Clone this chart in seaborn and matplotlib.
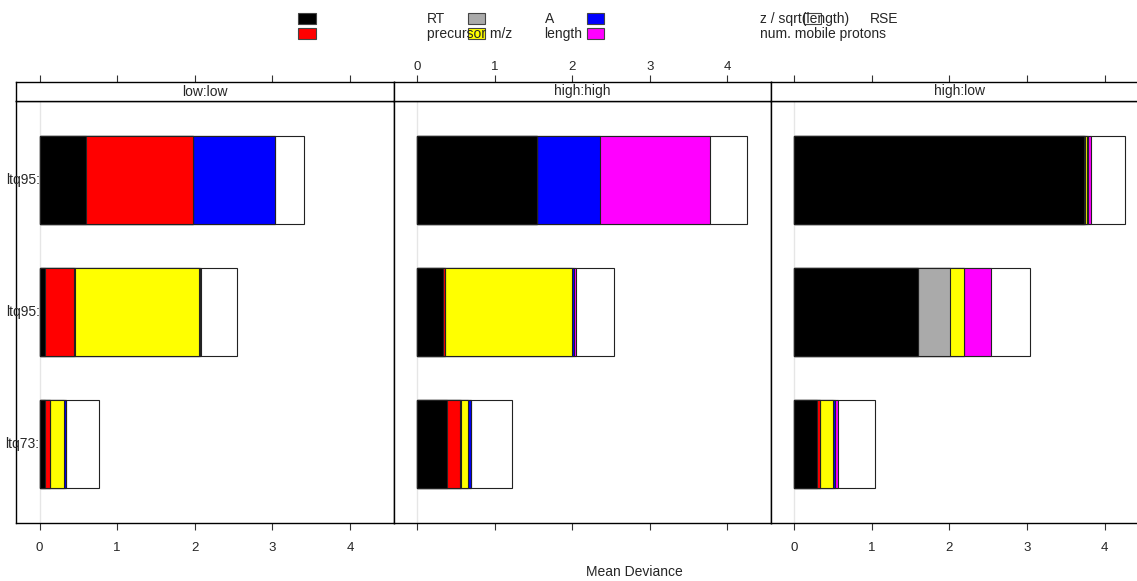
import matplotlib
matplotlib.use("Agg")
import matplotlib.pyplot as plt
from matplotlib.patches import Rectangle
import seaborn as sns
import numpy as np
import pandas as pd

# ---------------- data ----------------
panels = ["low:low", "high:high", "high:low"]
row_labels = ["ltq95:", "ltq95:", "ltq73:"]
row_ids = ["r1", "r2", "r3"]
components = ["RT", "precursor m/z", "A", "length",
              "z / sqrt(length)", "num. mobile protons", "RSE"]
colors = ["#000000", "#ff0000", "#aaaaaa", "#ffff00",
          "#0000ff", "#ff00ff", "#ffffff"]

# values per row (top to bottom), in component order
low_low = [[0.60, 1.38, 0.00, 0.00, 1.06, 0.00, 0.37],
           [0.07, 0.37, 0.01, 1.60, 0.02, 0.01, 0.47],
           [0.07, 0.06, 0.00, 0.18, 0.03, 0.00, 0.42]]
high_high = [[1.54, 0.00, 0.00, 0.00, 0.82, 1.42, 0.47],
             [0.34, 0.02, 0.00, 1.63, 0.03, 0.03, 0.49],
             [0.39, 0.16, 0.01, 0.09, 0.04, 0.01, 0.52]]
high_low = [[3.73, 0.02, 0.00, 0.02, 0.02, 0.04, 0.43],
            [1.60, 0.00, 0.41, 0.18, 0.00, 0.35, 0.50],
            [0.29, 0.04, 0.00, 0.17, 0.03, 0.03, 0.48]]
panel_values = [low_low, high_high, high_low]

x_ticks = [0, 1, 2, 3, 4]
x_label = "Mean Deviance"

# ---------------- build long table ----------------
recs = []
for p, vals in zip(panels, panel_values):
    for rid, rv in zip(row_ids, vals):
        cum = np.cumsum(rv)
        for k, comp in enumerate(components):
            recs.append(dict(panel=p, row=rid, comp=comp, k=k,
                             value=rv[k], cum=cum[k]))
df = pd.DataFrame(recs)

# ---------------- style ----------------
sns.set_theme(style="white")
plt.rcParams["font.family"] = ["Liberation Sans", "DejaVu Sans"]
plt.rcParams["font.size"] = 10

W, H = 1137, 581
fig = plt.figure(figsize=(W / 100, H / 100), dpi=100)

def fx(x):
    return x / W

def fy(y):
    return 1 - y / H

panel_left = [16.3, 393.8, 770.9]
panel_w = 377.5
top_y, strip_bot, bot_y = 82.3, 100.7, 522.7
xlim = (-0.30, -0.30 + panel_w / 77.6)

for i, (p, left) in enumerate(zip(panels, panel_left)):
    ax = fig.add_axes([fx(left), fy(bot_y), panel_w / W, (bot_y - strip_bot) / H])
    sax = fig.add_axes([fx(left), fy(strip_bot), panel_w / W, (strip_bot - top_y) / H])

    ax.axvline(0, color="#e6e6e6", lw=1, zorder=0)
    sub = df[df.panel == p]
    for k in range(len(components) - 1, -1, -1):
        d = sub[sub.k == k]
        sns.barplot(data=d, x="cum", y="row", order=row_ids, orient="h",
                    color=colors[k], saturation=1, edgecolor="#222222",
                    linewidth=0.8, width=2 / 3, errorbar=None, ax=ax, zorder=2)
    ax.set_xlim(*xlim)
    ax.set_ylim(2.6, -0.6)
    ax.set_xlabel("")
    ax.set_ylabel("")
    ax.set_yticks([])
    ax.set_xticks(x_ticks)
    ax.tick_params(axis="x", direction="out", length=4.8, width=0.8,
                   color="#333333", pad=9, labelsize=9.5,
                   bottom=True, labelbottom=(i != 1))
    for s in ax.spines.values():
        s.set_color("black")
        s.set_linewidth(1.0)

    # strip
    sax.set_xlim(*xlim)
    sax.set_ylim(0, 1)
    sax.set_yticks([])
    sax.set_xticks(x_ticks)
    sax.xaxis.tick_top()
    sax.tick_params(axis="x", direction="out", length=5, width=0.8,
                    color="#333333", pad=1.5, labelsize=9.5,
                    top=True, bottom=False, labeltop=(i == 1),
                    labelbottom=False)
    sax.set_facecolor("white")
    for s in sax.spines.values():
        s.set_color("black")
        s.set_linewidth(1.0)
    sax.text(0.5, 0.5, p, transform=sax.transAxes, ha="center",
             va="center", fontsize=10)

    if i == 0:
        for j, lab in enumerate(row_labels):
            ax.text(0, j, lab, ha="right", va="center", fontsize=10,
                    zorder=5, clip_on=False)

fig.text(fx(634), fy(572), x_label, ha="center", va="center", fontsize=10)

# ---------------- legend (as laid out in reference) ----------------
rect_w, rect_h = 17.4, 10.8
rect_pos = [(298.3, 13.3), (298.3, 28.3), (468, 13.3), (468, 28.3),
            (586.7, 13.3), (586.7, 28.3), (804, 13.3)]
text_pos = [(427, 18.8), (427, 34), (545, 18.8), (544, 34),
            (759.5, 18.8), (759.5, 34), (870, 18.8)]
for (rx, ry), c in zip(rect_pos, colors):
    fig.add_artist(Rectangle((fx(rx), fy(ry + rect_h)), rect_w / W, rect_h / H,
                             transform=fig.transFigure, facecolor=c,
                             edgecolor="#444444", lw=0.8, zorder=1))
for (tx, ty), lab in zip(text_pos, components):
    fig.text(fx(tx), fy(ty), lab, ha="left", va="center", fontsize=10,
             zorder=3)

fig.savefig("out.png", dpi=100)
